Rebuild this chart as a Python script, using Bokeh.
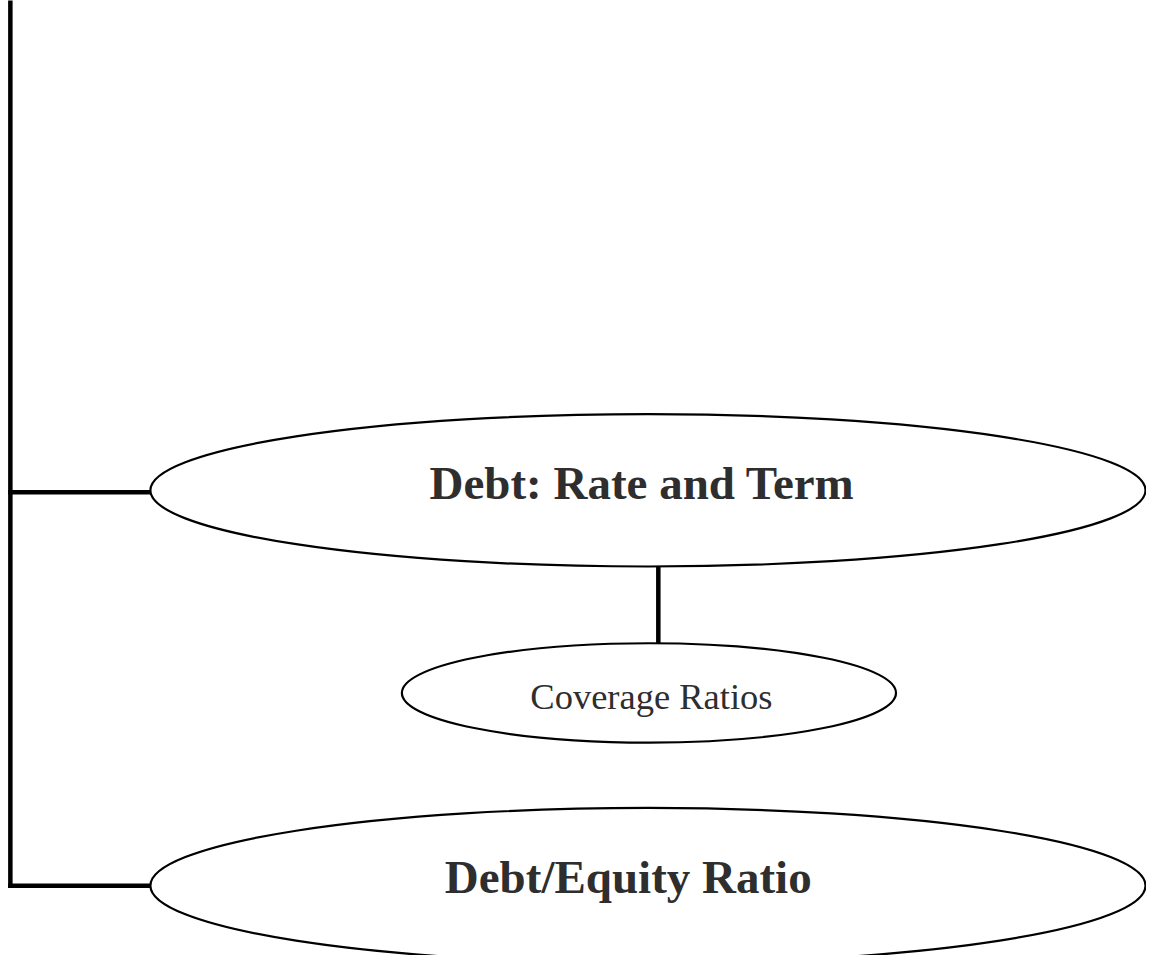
from bokeh.plotting import figure
from bokeh.models import Range1d, ColumnDataSource
from bokeh.core.properties import value
from bokeh.embed import file_html
from bokeh.resources import INLINE

# Diagram nodes (reference pixel coordinates)
node_labels = ["Debt: Rate and Term", "Coverage Ratios", "Debt/Equity Ratio"]
node_x = [656.5, 657.5, 656.5]
node_y = [498, 704, 900]
node_w = [1009, 501, 1009]
node_h = [155, 101, 158]
label_x = [650.5, 660, 636.5]
label_y = [491, 708, 891]
label_size = ["47px", "36.5px", "47px"]
label_bold = ["bold", "normal", "bold"]

# Connector lines
line_x0 = [10, 10, 10, 667]
line_y0 = [0, 500, 900, 575]
line_x1 = [10, 152, 152, 667]
line_y1 = [900, 500, 900, 655]

p = figure(width=1146, height=955, output_backend="svg", toolbar_location=None,
           x_range=Range1d(0, 1162), y_range=Range1d(971, 0),
           min_border=0, outline_line_color=None)
p.axis.visible = False
p.xgrid.visible = False
p.ygrid.visible = False
p.background_fill_color = "white"
p.border_fill_color = "white"

p.segment(x0=line_x0, y0=line_y0, x1=line_x1, y1=line_y1,
          line_color="black", line_width=4.5, line_cap="square")

p.ellipse(x=node_x, y=node_y, width=node_w, height=node_h,
          fill_color="white", line_color="black", line_width=2.2)

src = ColumnDataSource(dict(x=label_x, y=label_y, t=node_labels,
                            s=label_size, b=label_bold))
p.text(x="x", y="y", text="t", source=src, text_font=value("Liberation Serif"),
       text_font_size="s", text_font_style="b", text_align="center",
       text_baseline="alphabetic", text_color="#2e2e2e")

open("out.html", "w").write(file_html(p, INLINE))
